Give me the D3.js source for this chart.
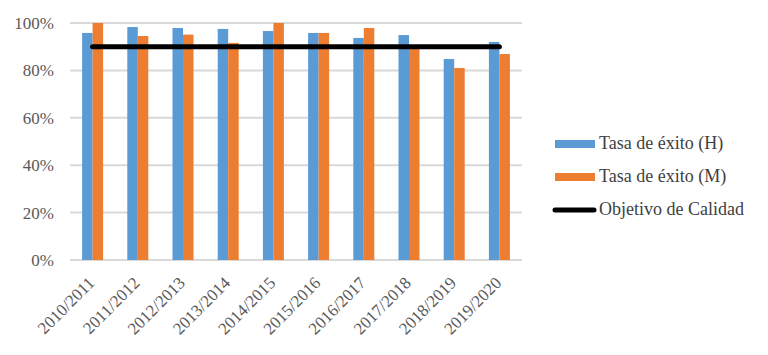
<!DOCTYPE html>
<html><head><meta charset="utf-8">
<script src="https://cdn.jsdelivr.net/npm/d3@7"></script>
<style>body{margin:0;background:#fff} svg text{font-family:"Liberation Serif","DejaVu Serif",serif;}</style>
</head><body>
<svg id="c" width="768" height="355"></svg>
<script>
const categories = ["2010/2011","2011/2012","2012/2013","2013/2014","2014/2015","2015/2016","2016/2017","2017/2018","2018/2019","2019/2020"];
const seriesH = [95.8, 98.3, 97.9, 97.5, 96.6, 95.8, 93.7, 94.9, 84.8, 92.0];
const seriesM = [100, 94.5, 95.1, 91.6, 100, 95.8, 97.9, 89.5, 81.0, 86.9];
const objetivo = [90, 90, 90, 90, 90, 90, 90, 90, 90, 90];
const seriesNames = ["Tasa de éxito (H)", "Tasa de éxito (M)", "Objetivo de Calidad"];
const yTicks = [0, 20, 40, 60, 80, 100];

(function(){
const colors = ["#5B9BD5", "#ED7D31", "#000000"];
const fs = 17;
const svg = d3.select("#c");
const pLeft = 70, pRight = 522, pTop = 23, pBottom = 260;

const x = d3.scaleBand().domain(categories).range([pLeft, pRight]).paddingInner(0).paddingOuter(0);
const y = d3.scaleLinear().domain([0, 100]).range([pBottom, pTop]);

svg.append("g").selectAll("line").data(yTicks).join("line")
  .attr("x1", pLeft).attr("x2", pRight)
  .attr("y1", d => y(d)).attr("y2", d => y(d))
  .attr("stroke", "#d9d9d9").attr("stroke-width", 2);

const yAxis = d3.axisLeft(y).tickValues(yTicks).tickFormat(d => d + "%").tickSize(0).tickPadding(16);
const ga = svg.append("g").attr("transform", `translate(${pLeft},0)`).call(yAxis);
ga.select(".domain").remove();
ga.attr("font-family", null).attr("font-size", null);
ga.selectAll("text").attr("font-size", fs).attr("fill", "#595959");

const bw = 10.5;
const gb = svg.append("g");
gb.selectAll("rect.h").data(categories).join("rect").attr("class","h")
  .attr("x", (d) => x(d) + x.bandwidth()/2 - bw)
  .attr("width", bw)
  .attr("y", (d,i) => y(seriesH[i]))
  .attr("height", (d,i) => y(0) - y(seriesH[i]))
  .attr("fill", colors[0]);
gb.selectAll("rect.m").data(categories).join("rect").attr("class","m")
  .attr("x", (d) => x(d) + x.bandwidth()/2)
  .attr("width", bw)
  .attr("y", (d,i) => y(seriesM[i]))
  .attr("height", (d,i) => y(0) - y(seriesM[i]))
  .attr("fill", colors[1]);

const xAxis = d3.axisBottom(x).tickSize(0).tickPadding(0);
const gx = svg.append("g").attr("transform", `translate(0,${pBottom})`).call(xAxis);
gx.select(".domain").remove();
gx.attr("font-family", null).attr("font-size", null);
gx.selectAll("text")
  .attr("font-size", fs).attr("fill", "#595959")
  .attr("text-anchor", "end").attr("dy", null).attr("y", 0)
  .attr("transform", "translate(3,24) rotate(-45)");

const line = d3.line().x((d,i) => x(categories[i]) + x.bandwidth()/2).y(d => y(d));
svg.append("path").datum(objetivo).attr("d", line)
  .attr("fill", "none").attr("stroke", "#000").attr("stroke-width", 5).attr("stroke-linecap", "round");

const lg = svg.append("g");
const ly = [144, 177, 210];
lg.append("rect").attr("x", 555).attr("y", ly[0]-4).attr("width", 40).attr("height", 8).attr("fill", colors[0]);
lg.append("rect").attr("x", 555).attr("y", ly[1]-4).attr("width", 40).attr("height", 8).attr("fill", colors[1]);
lg.append("line").attr("x1", 555).attr("x2", 594).attr("y1", ly[2]).attr("y2", ly[2])
  .attr("stroke", "#000").attr("stroke-width", 5).attr("stroke-linecap", "round");
lg.selectAll("text").data(seriesNames).join("text")
  .attr("x", 599).attr("y", (d,i) => ly[i] + 5)
  .attr("font-size", 18).attr("fill", "#404040")
  .text(d => d);
})();
</script>
</body></html>
